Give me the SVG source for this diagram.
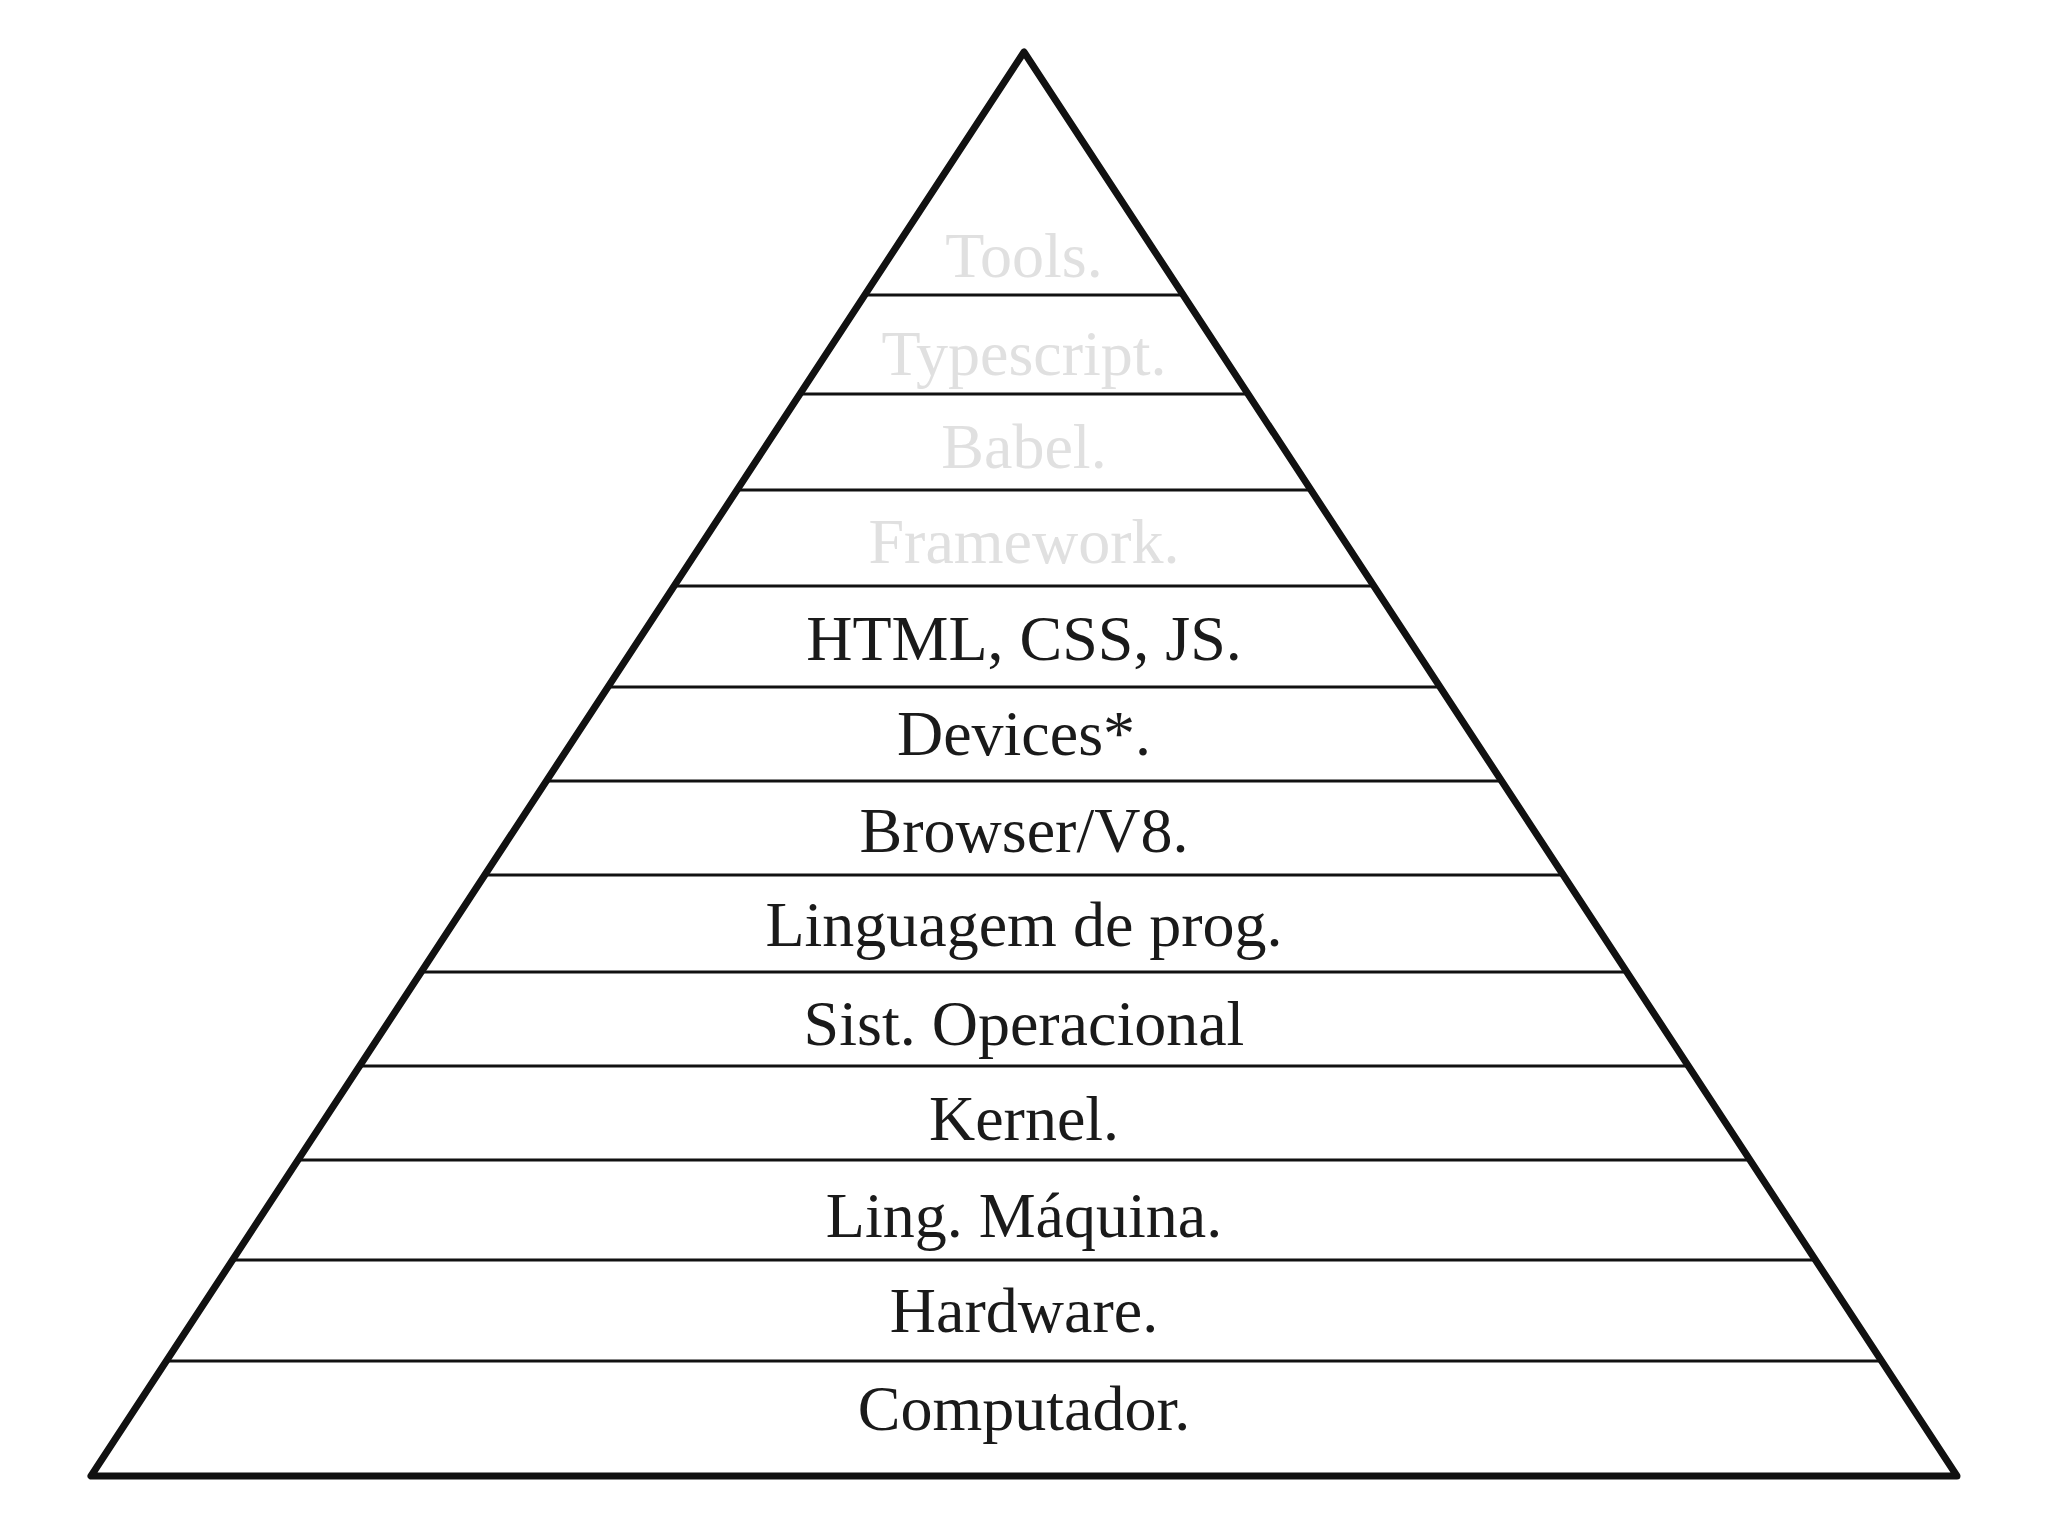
<svg xmlns="http://www.w3.org/2000/svg" width="2048" height="1536" viewBox="0 0 2048 1536">
<style>
.t{font-family:"Liberation Serif","DejaVu Serif",serif;font-size:64px;text-anchor:middle;fill:#1a1a1a}
.f{fill:#e0e0e0}
.l{stroke:#111;stroke-width:3}
</style>
<rect width="2048" height="1536" fill="#fff"/>
<g id="pyramid"><polygon points="1024,52 91,1476 1957,1476" fill="none" stroke="#111" stroke-width="7" stroke-linejoin="round"/></g>
<g id="connectors">
<line class="l" x1="865" y1="295" x2="1183" y2="295"/>
<line class="l" x1="800" y1="394" x2="1248" y2="394"/>
<line class="l" x1="735" y1="490" x2="1313" y2="490"/>
<line class="l" x1="672" y1="586" x2="1376" y2="586"/>
<line class="l" x1="606" y1="687" x2="1442" y2="687"/>
<line class="l" x1="546" y1="781" x2="1502" y2="781"/>
<line class="l" x1="485" y1="875" x2="1563" y2="875"/>
<line class="l" x1="421" y1="972" x2="1627" y2="972"/>
<line class="l" x1="360" y1="1066" x2="1688" y2="1066"/>
<line class="l" x1="298" y1="1160" x2="1750" y2="1160"/>
<line class="l" x1="232" y1="1260" x2="1816" y2="1260"/>
<line class="l" x1="166" y1="1361" x2="1882" y2="1361"/>
</g>
<g id="n1"><text class="t f" x="1024" y="277">Tools.</text></g>
<g id="n2"><text class="t f" x="1024" y="375">Typescript.</text></g>
<g id="n3"><text class="t f" x="1024" y="468">Babel.</text></g>
<g id="n4"><text class="t f" x="1024" y="563">Framework.</text></g>
<g id="n5"><text class="t" x="1024" y="660">HTML, CSS, JS.</text></g>
<g id="n6"><text class="t" x="1024" y="755">Devices*.</text></g>
<g id="n7"><text class="t" x="1024" y="852">Browser/V8.</text></g>
<g id="n8"><text class="t" x="1024" y="946">Linguagem de prog.</text></g>
<g id="n9"><text class="t" x="1024" y="1045">Sist. Operacional</text></g>
<g id="n10"><text class="t" x="1024" y="1140">Kernel.</text></g>
<g id="n11"><text class="t" x="1024" y="1237">Ling. Máquina.</text></g>
<g id="n12"><text class="t" x="1024" y="1332">Hardware.</text></g>
<g id="n13"><text class="t" x="1024" y="1430">Computador.</text></g>
</svg>
